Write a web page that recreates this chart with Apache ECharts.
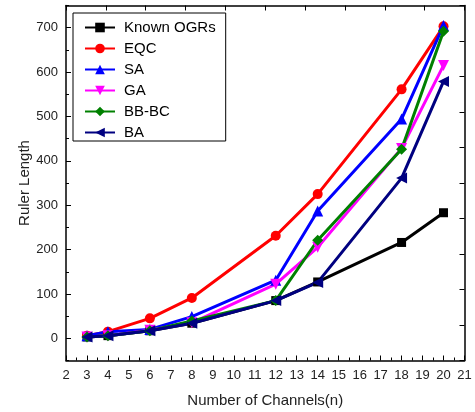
<!DOCTYPE html>
<html>
<head>
<meta charset="utf-8">
<script src="https://cdn.jsdelivr.net/npm/echarts@6/dist/echarts.min.js"></script>
<style>
  html, body { margin: 0; padding: 0; background: #fff; }
  #chart { width: 475px; height: 412px; }
</style>
</head>
<body>
<div id="chart"></div>
<script>
// 通道数
const channels = [3, 4, 6, 8, 12, 14, 18, 20];

// 各算法的标尺长度
const knownOGRs = [3, 6, 17, 34, 85, 127, 216, 283];
const eqc = [6, 15, 45, 91, 231, 325, 561, 703];
const sa = [6, 15, 20, 49, 131, 287, 494, 705];
const ga = [3, 6, 18, 35, 122, 205, 428, 615];
const bbbc = [3, 6, 17, 39, 85, 221, 426, 692];
const ba = [3, 6, 17, 34, 85, 126, 361, 579];

const yLabels = [0, 100, 200, 300, 400, 500, 600, 700];

const chart = echarts.init(document.getElementById('chart'));

// 把x和y拼成点
const toPoints = (vals) => channels.map((c, i) => [c, vals[i]]);

const makeSeries = (name, vals, color, symbol, size) => ({
  name,
  type: 'line',
  data: toPoints(vals),
  symbol,
  symbolSize: size,
  showAllSymbol: true,
  lineStyle: { color, width: 3 },
  itemStyle: { color },
  xAxisIndex: 0,
  yAxisIndex: 0,
  animation: false
});

const font = 'Liberation Sans, Arial, sans-serif';

const option = {
  animation: false,
  grid: { left: 66, right: 10.5, top: 5.5, bottom: 51.5, outerBoundsMode: 'none', containLabel: false },
  legend: {
    orient: 'vertical',
    left: 73,
    top: 13,
    width: 150,
    padding: [7, 10, 1, 11],
    itemWidth: 30,
    itemHeight: 12,
    itemGap: 6,
    backgroundColor: '#fff',
    borderColor: '#000',
    borderWidth: 1,
    textStyle: { fontFamily: font, fontSize: 15, color: '#000', padding: [0, 0, 0, 4] },
    data: ['Known OGRs', 'EQC', 'SA', 'GA', 'BB-BC', 'BA']
  },
  xAxis: [
    {
      type: 'value',
      min: 2,
      max: 21,
      interval: 1,
      position: 'bottom',
      name: 'Number of Channels(n)',
      nameLocation: 'middle',
      nameGap: 33,
      nameMoveOverlap: false,
      nameTextStyle: { fontFamily: font, fontSize: 15, color: '#222' },
      axisLine: { onZero: false, lineStyle: { color: '#000', width: 1.5 } },
      axisTick: { inside: true, length: 5, lineStyle: { color: '#000' } },
      minorTick: { show: true, splitNumber: 2, length: 3, lineStyle: { color: '#000' } },
      axisLabel: { fontFamily: font, fontSize: 13, color: '#222', margin: 8, interval: 0, hideOverlap: false },
      splitLine: { show: false }
    },
    {
      // 上边框
      type: 'value',
      min: 0,
      max: 10,
      interval: 1,
      position: 'top',
      axisLine: { show: true, onZero: false, lineStyle: { color: '#000', width: 1.5 } },
      axisTick: { inside: true, length: 5, lineStyle: { color: '#000' } },
      axisLabel: { show: false },
      splitLine: { show: false }
    }
  ],
  yAxis: [
    {
      type: 'value',
      min: -50,
      max: 750,
      interval: 50,
      position: 'left',
      name: 'Ruler Length',
      nameLocation: 'middle',
      nameGap: 34,
      nameMoveOverlap: false,
      nameTextStyle: { fontFamily: font, fontSize: 15, color: '#222' },
      axisLine: { show: true, onZero: false, lineStyle: { color: '#000', width: 1.5 } },
      axisTick: { show: true, inside: true, length: 3, lineStyle: { color: '#000' } },
      axisLabel: {
        fontFamily: font, fontSize: 13, color: '#222', margin: 8,
        formatter: (v) => (yLabels.includes(v) ? String(v) : '')
      },
      splitLine: { show: false }
    },
    {
      // 左侧长刻度
      type: 'value',
      min: -50,
      max: 750,
      interval: 50,
      position: 'left',
      axisLine: { show: false, onZero: false },
      axisTick: {
        show: true, inside: true, length: 5, lineStyle: { color: '#000' },
        customValues: yLabels
      },
      axisLabel: { show: false },
      splitLine: { show: false }
    },
    {
      // 右边框
      type: 'value',
      min: 0,
      max: 10,
      interval: 1,
      position: 'right',
      axisLine: { show: true, onZero: false, lineStyle: { color: '#000', width: 1.5 } },
      axisTick: { show: true, inside: true, length: 5, lineStyle: { color: '#000' } },
      axisLabel: { show: false },
      splitLine: { show: false }
    }
  ],
  series: [
    makeSeries('Known OGRs', knownOGRs, '#000000', 'rect', 9),
    makeSeries('EQC', eqc, '#ff0000', 'circle', 10),
    makeSeries('SA', sa, '#0000ff', 'triangle', 11),
    makeSeries('GA', ga, '#ff00ff', 'path://M0,0 L10,0 L5,9 Z', 11),
    makeSeries('BB-BC', bbbc, '#008000', 'diamond', 11),
    makeSeries('BA', ba, '#000080', 'path://M10,0 L10,10 L1,5 Z', 11)
  ]
};

chart.setOption(option);
</script>
</body>
</html>
